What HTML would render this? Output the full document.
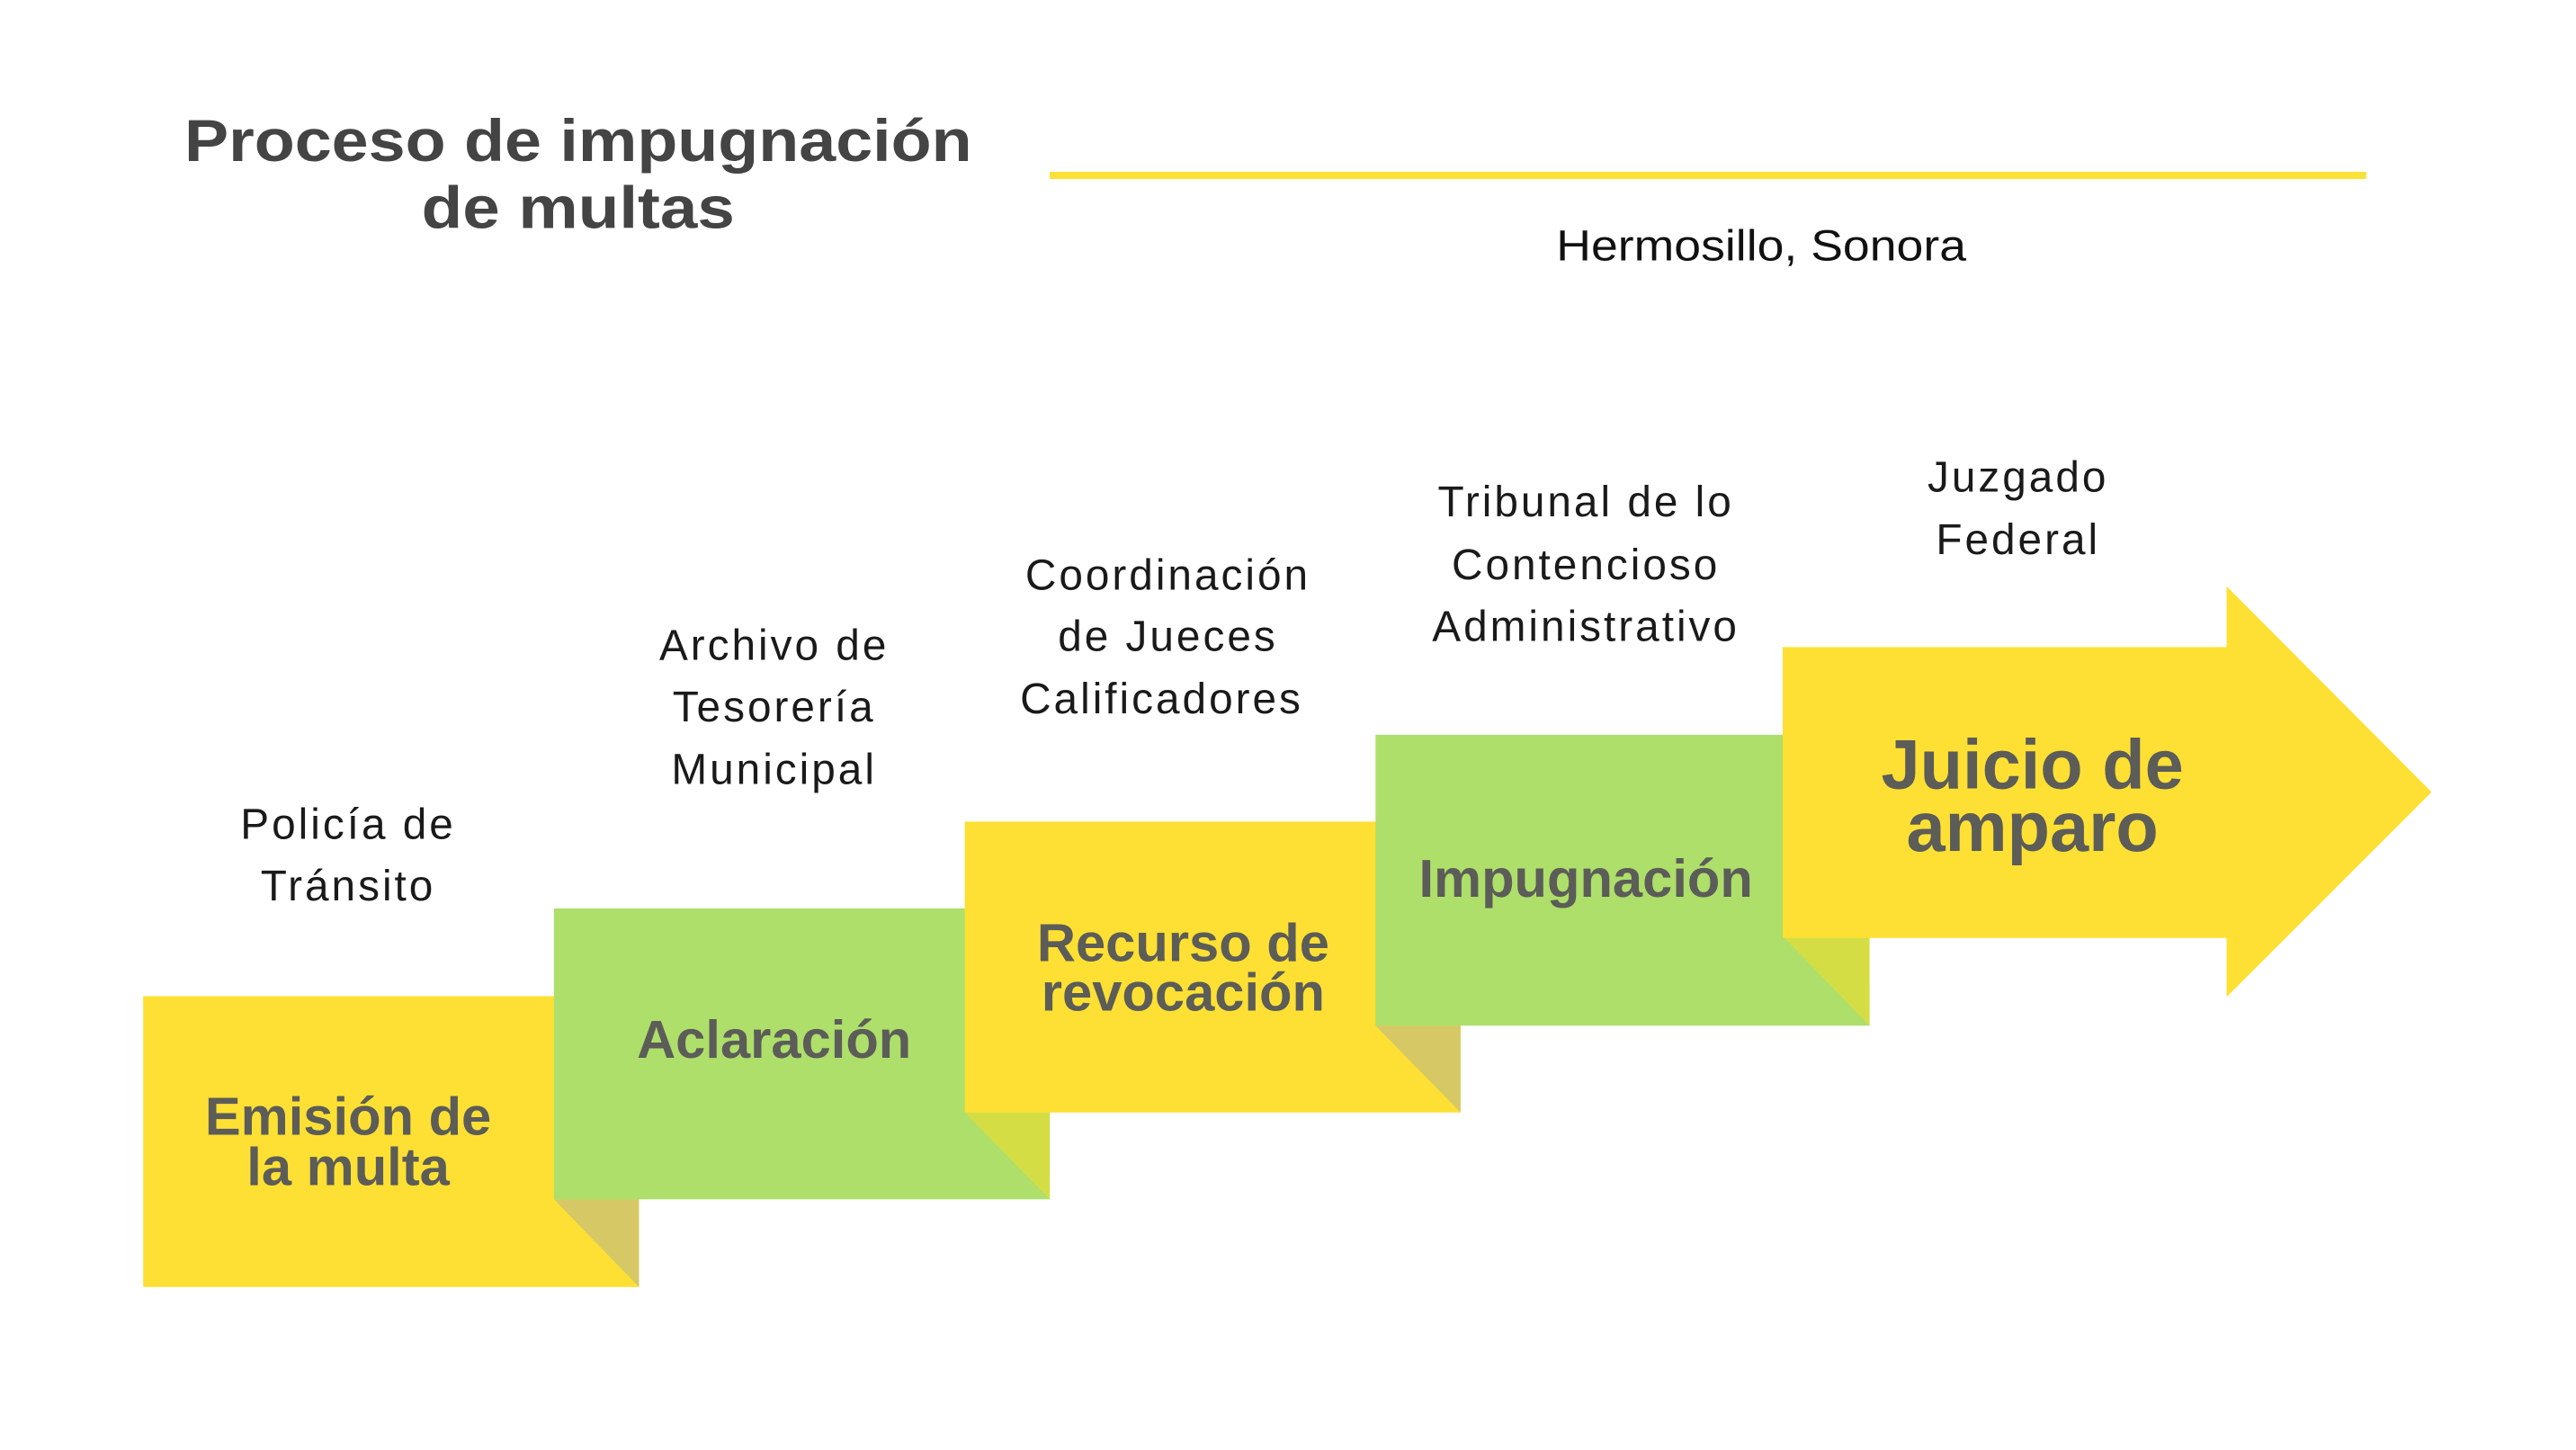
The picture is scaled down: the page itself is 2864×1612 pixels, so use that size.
<!DOCTYPE html>
<html><head><meta charset="utf-8"><style>html,body{margin:0;padding:0;background:#fff}svg{display:block}</style></head>
<body>
<svg width="2864" height="1612" viewBox="0 0 2864 1612" xmlns="http://www.w3.org/2000/svg">
<g font-family="Liberation Sans, sans-serif" transform="scale(0.995)">
<text x="646" y="180" font-size="66" font-weight="bold" fill="#444" text-anchor="middle" textLength="880" lengthAdjust="spacingAndGlyphs">Proceso de impugnación</text>
<text x="646" y="255" font-size="66" font-weight="bold" fill="#444" text-anchor="middle" textLength="350" lengthAdjust="spacingAndGlyphs">de multas</text>
<rect x="1173" y="192" width="1471" height="8" fill="#fbe035"/>
<text x="1968" y="291" font-size="48" fill="#111" text-anchor="middle" textLength="458" lengthAdjust="spacingAndGlyphs">Hermosillo, Sonora</text>

<rect x="160" y="1113" width="554" height="325" fill="#fde033"/>
<polygon points="619,1340 714,1340 714,1438" fill="#d7c866"/>
<rect x="619" y="1015" width="554" height="325" fill="#addf6a"/>
<polygon points="1078,1243 1173,1243 1173,1340" fill="#d4de44"/>
<rect x="1078" y="918" width="554" height="325" fill="#fde033"/>
<polygon points="1537,1146 1632,1146 1632,1243" fill="#d7c866"/>
<rect x="1537" y="821" width="552" height="325" fill="#addf6a"/>
<polygon points="1994,1048 2089,1048 2089,1146" fill="#d4de44"/>
<polygon points="1992,723 2488,723 2488,655 2717,885 2488,1114 2488,1048 1992,1048" fill="#fde033"/>

<g font-weight="bold" fill="#5c5c58" text-anchor="middle" font-size="60">
<text x="389" y="1268">Emisión de</text>
<text x="389" y="1324">la multa</text>
<text x="865" y="1182">Aclaración</text>
<text x="1322" y="1074">Recurso de</text>
<text x="1322" y="1129">revocación</text>
<text x="1772" y="1002">Impugnación</text>
<text x="2271" y="881" font-size="78">Juicio de</text>
<text x="2271" y="951" font-size="78">amparo</text>
</g>

<g fill="#1a1a1a" text-anchor="middle" font-size="48" letter-spacing="3">
<text x="389" y="937">Policía de</text>
<text x="389" y="1006">Tránsito</text>
<text x="865" y="737">Archivo de</text>
<text x="865" y="806">Tesorería</text>
<text x="865" y="876">Municipal</text>
<text x="1305" y="659">Coordinación</text>
<text x="1305" y="727">de Jueces</text>
<text x="1298" y="797">Calificadores</text>
<text x="1772" y="577">Tribunal de lo</text>
<text x="1772" y="647">Contencioso</text>
<text x="1772" y="716">Administrativo</text>
<text x="2255" y="549">Juzgado</text>
<text x="2255" y="619">Federal</text>
</g>
</g>
</svg>
</body></html>
